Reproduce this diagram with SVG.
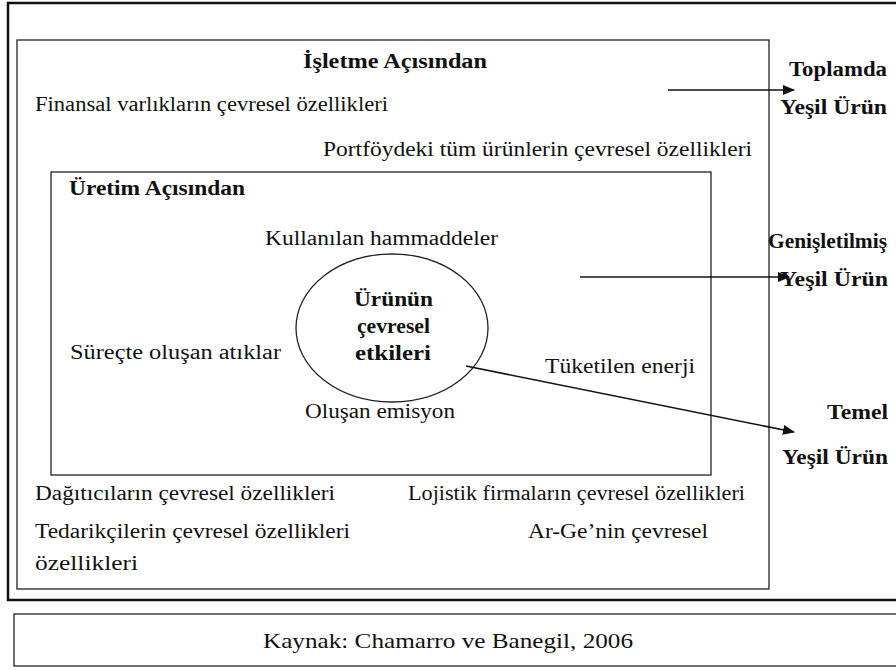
<svg xmlns="http://www.w3.org/2000/svg" width="896" height="670" viewBox="0 0 896 670" font-family="Liberation Serif, Times New Roman, serif">
<defs>
<style>
.t{font-size:20px;fill:#111}
.b{font-size:20px;font-weight:bold;fill:#111}
.box{fill:none;stroke:#222;stroke-width:1.3}
.frame{fill:none;stroke:#111;stroke-width:2.5}
.arr{fill:none;stroke:#111;stroke-width:1.6;marker-end:url(#ah)}
</style>
<marker id="ah" viewBox="0 0 12 10" refX="11" refY="5" markerWidth="12" markerHeight="10" markerUnits="userSpaceOnUse" orient="auto">
<path d="M0,0 L12,5 L0,10 z" fill="#111"/>
</marker>
</defs>
<rect width="896" height="670" fill="#fff"/>
<g id="outer-frame">
<path class="frame" d="M896,3 L8,3 L8,600 L896,600"/>
</g>
<g id="isletme">
<rect class="box" x="17" y="40" width="752" height="549"/>
<text class="b" x="303" y="68" textLength="184" lengthAdjust="spacingAndGlyphs">İşletme Açısından</text>
<text class="t" x="35" y="111" textLength="353" lengthAdjust="spacingAndGlyphs">Finansal varlıkların çevresel özellikleri</text>
<text class="t" x="323" y="156" textLength="429" lengthAdjust="spacingAndGlyphs">Portföydeki tüm ürünlerin çevresel özellikleri</text>
<text class="t" x="35" y="500" textLength="300" lengthAdjust="spacingAndGlyphs">Dağıtıcıların çevresel özellikleri</text>
<text class="t" x="408" y="500" textLength="337" lengthAdjust="spacingAndGlyphs">Lojistik firmaların çevresel özellikleri</text>
<text class="t" x="35" y="538" textLength="315" lengthAdjust="spacingAndGlyphs">Tedarikçilerin çevresel özellikleri</text>
<text class="t" x="528" y="538" textLength="180" lengthAdjust="spacingAndGlyphs">Ar-Ge’nin çevresel</text>
<text class="t" x="35" y="570" textLength="103" lengthAdjust="spacingAndGlyphs">özellikleri</text>
</g>
<g id="uretim">
<rect class="box" x="51" y="172" width="660" height="303"/>
<text class="b" x="69" y="195" textLength="176" lengthAdjust="spacingAndGlyphs">Üretim Açısından</text>
<text class="t" x="265" y="245" textLength="233" lengthAdjust="spacingAndGlyphs">Kullanılan hammaddeler</text>
<text class="t" x="70" y="359" textLength="211" lengthAdjust="spacingAndGlyphs">Süreçte oluşan atıklar</text>
<text class="t" x="545" y="373" textLength="150" lengthAdjust="spacingAndGlyphs">Tüketilen enerji</text>
<text class="t" x="305" y="418" textLength="150" lengthAdjust="spacingAndGlyphs">Oluşan emisyon</text>
</g>
<g id="urun-etkileri">
<ellipse class="box" cx="392" cy="328" rx="96" ry="74"/>
<text class="b" x="354" y="306" textLength="79" lengthAdjust="spacingAndGlyphs">Ürünün</text>
<text class="b" x="357" y="333" textLength="73" lengthAdjust="spacingAndGlyphs">çevresel</text>
<text class="b" x="355" y="360" textLength="76" lengthAdjust="spacingAndGlyphs">etkileri</text>
</g>
<g id="toplamda">
<text class="b" x="789" y="76" textLength="98" lengthAdjust="spacingAndGlyphs">Toplamda</text>
<text class="b" x="780" y="114" textLength="107" lengthAdjust="spacingAndGlyphs">Yeşil Ürün</text>
</g>
<g id="genisletilmis">
<text class="b" x="768" y="248" textLength="119" lengthAdjust="spacingAndGlyphs">Genişletilmiş</text>
<text class="b" x="780" y="286" textLength="108" lengthAdjust="spacingAndGlyphs">Yeşil Ürün</text>
</g>
<g id="temel">
<text class="b" x="827" y="419" textLength="61" lengthAdjust="spacingAndGlyphs">Temel</text>
<text class="b" x="782" y="464" textLength="106" lengthAdjust="spacingAndGlyphs">Yeşil Ürün</text>
</g>
<g id="connectors">
<line class="arr" x1="668" y1="90" x2="794" y2="90"/>
<line class="arr" x1="580" y1="277" x2="789" y2="277"/>
<line class="arr" x1="466" y1="366" x2="794" y2="432"/>
</g>
<g id="kaynak">
<rect class="box" x="14" y="614" width="890" height="52"/>
<text class="t" x="263" y="648" style="font-size:21px" textLength="370" lengthAdjust="spacingAndGlyphs">Kaynak: Chamarro ve Banegil, 2006</text>
</g>
</svg>
